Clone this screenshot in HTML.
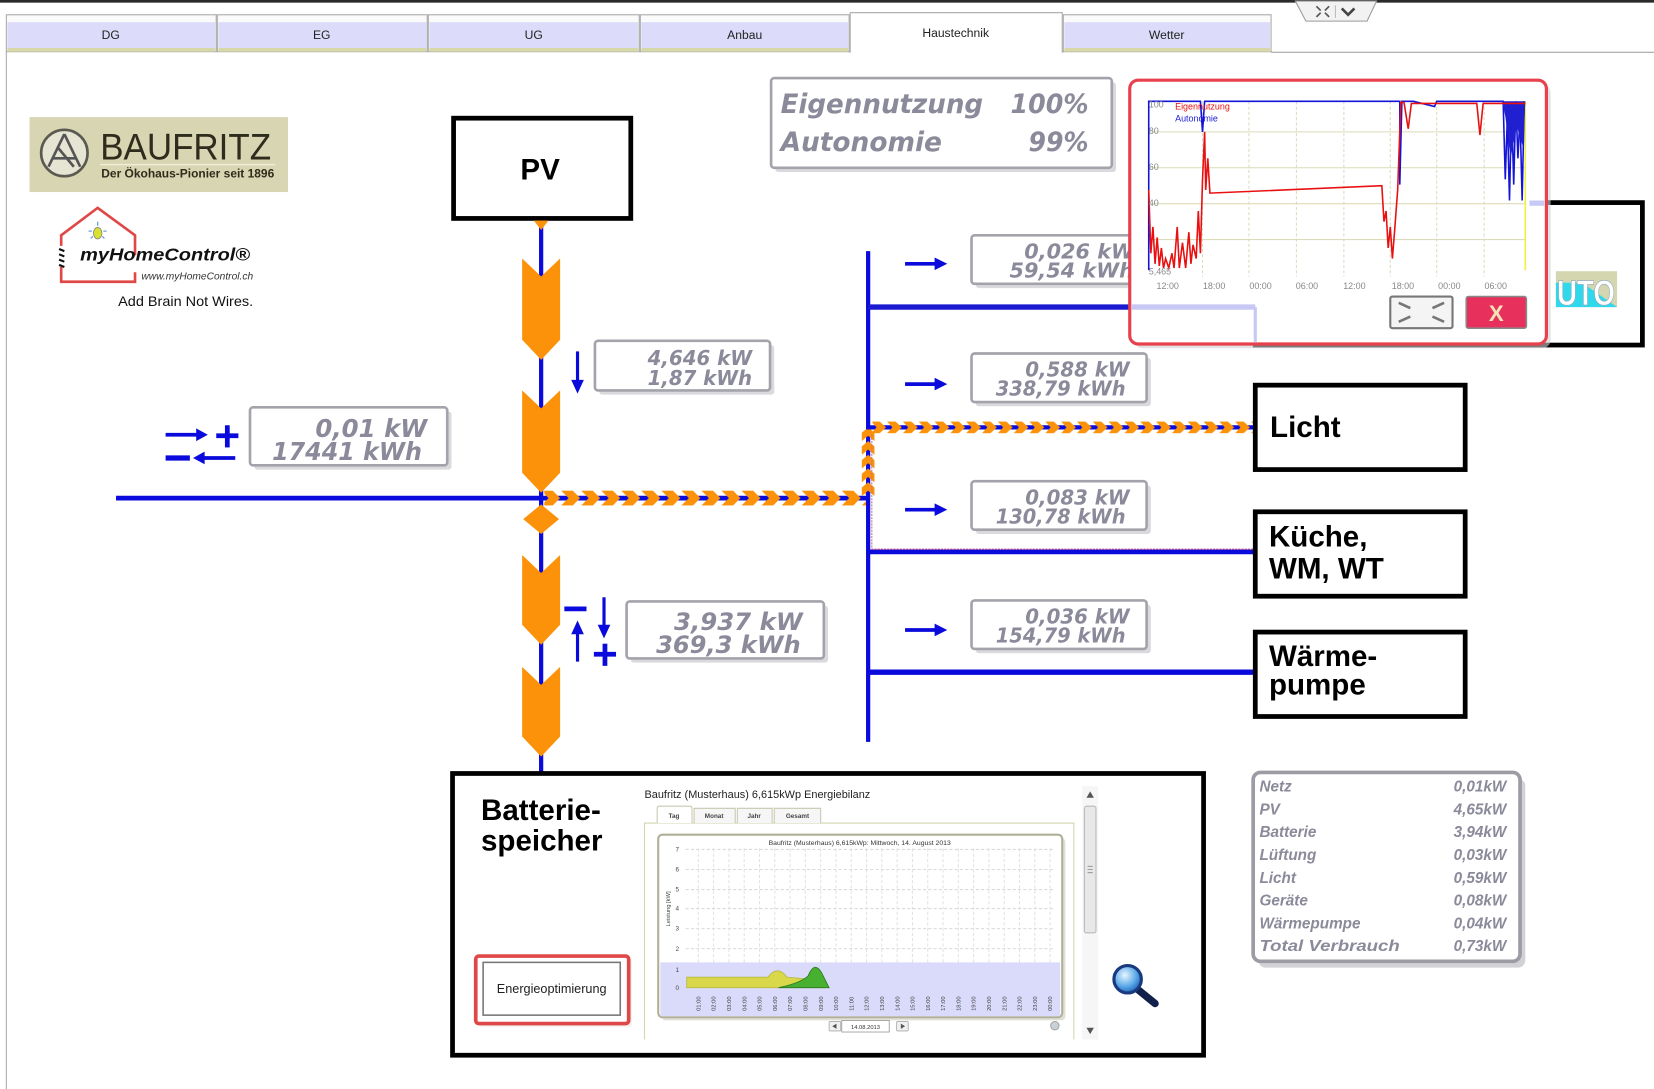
<!DOCTYPE html>
<html><head><meta charset="utf-8">
<style>
html,body{margin:0;padding:0;background:#fff;overflow:hidden}
svg{display:block}
text{font-family:"Liberation Sans",sans-serif}
.g{font-family:"DejaVu Sans","Liberation Sans",sans-serif;font-weight:bold;font-style:italic;fill:#8a8a9a}
.bx{fill:#fff;stroke:#a3a3ab;stroke-width:2.5}
.sh{fill:#dadade}
.blk{fill:#fff;stroke:#000;stroke-width:4.5}
.bt{font-weight:bold;font-size:28px;fill:#000}
.tl{font-size:11.5px;fill:#222;text-anchor:middle}
.ax{font-size:8.5px;fill:#888}
.sx{font-size:5.5px;fill:#444}
</style></head><body>
<svg width="1654" height="1089" viewBox="0 0 1568 1032" preserveAspectRatio="none" xmlns="http://www.w3.org/2000/svg">
<defs>
<pattern id="ph" x="513" y="465" width="19" height="14" patternUnits="userSpaceOnUse">
<path d="M0,0 L11,0 L18,7 L11,14 L0,14 L7,7 Z" fill="#fb9209"/>
</pattern>
<pattern id="pv" x="817" y="405" width="12" height="13" patternUnits="userSpaceOnUse">
<path d="M0,13 L0,5 L6,0 L12,5 L12,13 L6,8 Z" fill="#fb9209"/>
</pattern>
<pattern id="pl" x="826" y="399.5" width="15" height="11" patternUnits="userSpaceOnUse">
<path d="M0,0 L8,0 L14,5.5 L8,11 L0,11 L5,5.5 Z" fill="#fb9209"/>
</pattern>
<radialGradient id="lens" cx="0.4" cy="0.35" r="0.7">
<stop offset="0" stop-color="#e8f6ff"/><stop offset="0.6" stop-color="#5aa8e8"/><stop offset="1" stop-color="#1a5ab0"/>
</radialGradient>
</defs>

<!-- top frame -->
<rect x="0" y="0" width="1568" height="2.5" fill="#2a2a2a"/>
<path d="M1228,1 L1305,1 L1296,20 L1238,20 Z" fill="#f2f2f2" stroke="#9a9a9a"/>
<g stroke="#555" stroke-width="1.6" fill="none">
<path d="M1248,6 l4,4 M1260,6 l-4,4 M1248,16 l4,-4 M1260,16 l-4,-4"/>
</g>
<line x1="1266" y1="5" x2="1266" y2="17" stroke="#bbb"/>
<polyline points="1272,8 1278,14 1284,8" fill="none" stroke="#444" stroke-width="2.5"/>

<!-- tabs -->
<g>
<rect x="6" y="14" width="199" height="35" fill="#fafafa" stroke="#a8a8a8"/><rect x="7" y="21" width="197" height="25" fill="#dcdcfa"/><rect x="7" y="45.5" width="197" height="3.5" fill="#d6d8a8"/>
<rect x="206" y="14" width="199" height="35" fill="#fafafa" stroke="#a8a8a8"/><rect x="207" y="21" width="197" height="25" fill="#dcdcfa"/><rect x="207" y="45.5" width="197" height="3.5" fill="#d6d8a8"/>
<rect x="406" y="14" width="200" height="35" fill="#fafafa" stroke="#a8a8a8"/><rect x="407" y="21" width="198" height="25" fill="#dcdcfa"/><rect x="407" y="45.5" width="198" height="3.5" fill="#d6d8a8"/>
<rect x="607" y="14" width="198" height="35" fill="#fafafa" stroke="#a8a8a8"/><rect x="608" y="21" width="196" height="25" fill="#dcdcfa"/><rect x="608" y="45.5" width="196" height="3.5" fill="#d6d8a8"/>
<rect x="1008" y="14" width="197" height="35" fill="#fafafa" stroke="#a8a8a8"/><rect x="1009" y="21" width="195" height="25" fill="#dcdcfa"/><rect x="1009" y="45.5" width="195" height="3.5" fill="#d6d8a8"/>
<path d="M806,50 L806,12 L1007,12 L1007,50" fill="#fff" stroke="#a8a8a8"/>
<text class="tl" x="105" y="37">DG</text>
<text class="tl" x="305" y="37">EG</text>
<text class="tl" x="506" y="37">UG</text>
<text class="tl" x="706" y="37">Anbau</text>
<text class="tl" x="906" y="35">Haustechnik</text>
<text class="tl" x="1106" y="37">Wetter</text>
</g>
<line x1="1205" y1="49.5" x2="1568" y2="49.5" stroke="#9a9a9a"/>
<line x1="6" y1="49" x2="6" y2="1032" stroke="#a8a8a8"/>

<!-- BAUFRITZ logo -->
<rect x="28" y="111" width="245" height="71" fill="#d8d5b2"/>
<circle cx="61" cy="145" r="22" fill="#e6e4d2" stroke="#5a5a50" stroke-width="2.5"/>
<path d="M61,127 L46,158 M61,127 L76,158 M50,150 L72,150 M55,140 L70,158" stroke="#555" stroke-width="2.5" fill="none"/>
<text x="95" y="151" font-size="35" fill="#2e2c1c" textLength="162" lengthAdjust="spacingAndGlyphs">BAUFRITZ</text>
<line x1="95" y1="156" x2="261" y2="156" stroke="#f2f0dc" stroke-width="1.2"/>
<text x="96" y="168" font-size="11.5" font-weight="bold" fill="#2e2c1c" textLength="164" lengthAdjust="spacingAndGlyphs">Der Ökohaus-Pionier seit 1896</text>

<!-- myHomeControl logo -->
<polyline points="58,233 58,223 92.6,197 128,223 128,242" fill="none" stroke="#e04848" stroke-width="2.5"/>
<polyline points="58,253 58,267 128,267 128,258" fill="none" stroke="#e04848" stroke-width="2.5"/>
<path d="M56,236 l5,2 M56,241 l5,2 M56,246 l5,2 M56,251 l5,2" stroke="#111" stroke-width="2"/>
<ellipse cx="92.6" cy="221" rx="4" ry="5.5" fill="#d8e030" stroke="#888" stroke-width="0.8"/>
<path d="M92.6,210 v4 M84,219 h3 M98,219 h3 M86,226 l2,-2 M99,226 l-2,-2" stroke="#6aa0d0" stroke-width="1.2"/>
<text x="76" y="247" font-size="17" font-weight="bold" font-style="italic" fill="#111" textLength="161" lengthAdjust="spacingAndGlyphs">myHomeControl®</text>
<text x="134" y="265" font-size="9.5" font-style="italic" fill="#333" textLength="106" lengthAdjust="spacingAndGlyphs">www.myHomeControl.ch</text>
<text x="112" y="290" font-size="13.5" fill="#111" textLength="128" lengthAdjust="spacingAndGlyphs">Add Brain Not Wires.</text>

<!-- PV box -->
<rect class="blk" x="430" y="112" width="168" height="95"/>
<text class="bt" x="512" y="170" text-anchor="middle">PV</text>

<!-- main vertical -->
<line x1="513" y1="209" x2="513" y2="732" stroke="#0a0adc" stroke-width="4"/>
<path d="M506,209 L520,209 L513,218 Z" fill="#fb9209"/>
<g fill="#fb9209">
<path d="M495,245 L513,262 L531,245 L531,322 L513,341 L495,322 Z"/>
<path d="M495,370 L513,387 L531,370 L531,448 L513,467 L495,448 Z"/>
<path d="M495,526 L513,543 L531,526 L531,592 L513,611 L495,592 Z"/>
<path d="M495,632 L513,649 L531,632 L531,698 L513,717 L495,698 Z"/>
<path d="M513,478 L530,492 L513,506 L496,492 Z"/>
</g>

<!-- main horizontal -->
<line x1="110" y1="472" x2="823" y2="472" stroke="#0a0adc" stroke-width="4.5"/>
<rect x="516" y="465" width="305" height="14" fill="url(#ph)"/>

<!-- right bus -->
<line x1="823" y1="238" x2="823" y2="703" stroke="#0a0adc" stroke-width="4"/>
<line x1="823" y1="291" x2="1072" y2="291" stroke="#1a1ad0" stroke-width="5"/>
<line x1="823" y1="405" x2="1190" y2="405" stroke="#0a0adc" stroke-width="4"/>
<rect x="817" y="407" width="12" height="63" fill="url(#pv)"/>
<rect x="827" y="399.5" width="361" height="11" fill="url(#pl)"/>
<line x1="823" y1="523" x2="1190" y2="523" stroke="#0a0adc" stroke-width="4.5"/>
<line x1="826" y1="520.5" x2="1190" y2="520.5" stroke="#b04890" stroke-width="1.2" stroke-dasharray="2,1"/>
<line x1="826.5" y1="412" x2="826.5" y2="520" stroke="#c07090" stroke-width="1" stroke-dasharray="2,1"/>
<line x1="823" y1="637" x2="1190" y2="637" stroke="#0a0adc" stroke-width="5"/>

<!-- arrows -->
<g stroke="#0a0adc" stroke-width="3.5" fill="#0a0adc">
<line x1="858" y1="250" x2="888" y2="250"/><path d="M886,244 L898,250 L886,256 Z" stroke="none"/>
<line x1="858" y1="364" x2="888" y2="364"/><path d="M886,358 L898,364 L886,370 Z" stroke="none"/>
<line x1="858" y1="483" x2="888" y2="483"/><path d="M886,477 L898,483 L886,489 Z" stroke="none"/>
<line x1="858" y1="597" x2="888" y2="597"/><path d="M886,591 L898,597 L886,603 Z" stroke="none"/>
<!-- Netz -->
<line x1="157" y1="412" x2="188" y2="412"/><path d="M186,406 L197,412 L186,418 Z" stroke="none"/>
<line x1="205" y1="413" x2="226" y2="413" stroke-width="4.5"/><line x1="215.5" y1="403" x2="215.5" y2="424" stroke-width="4.5"/>
<line x1="157" y1="434" x2="180" y2="434" stroke-width="5"/>
<line x1="223" y1="434" x2="192" y2="434"/><path d="M194,428 L183,434 L194,440 Z" stroke="none"/>
<!-- PV -->
<line x1="547.5" y1="333" x2="547.5" y2="362" stroke-width="3"/><path d="M541.5,360 L547.5,373 L553.5,360 Z" stroke="none"/>
<!-- Battery -->
<line x1="535" y1="577" x2="556" y2="577" stroke-width="4.5"/>
<line x1="572.6" y1="566" x2="572.6" y2="594" stroke-width="3"/><path d="M566.6,592 L572.6,605 L578.6,592 Z" stroke="none"/>
<line x1="547.5" y1="627" x2="547.5" y2="599" stroke-width="3"/><path d="M541.5,601 L547.5,588 L553.5,601 Z" stroke="none"/>
<line x1="563" y1="620" x2="584" y2="620" stroke-width="4.5"/><line x1="573.5" y1="610" x2="573.5" y2="631" stroke-width="4.5"/>
</g>

<!-- gauges -->
<rect class="sh" x="241" y="390" width="187" height="55" rx="3"/>
<rect class="bx" x="237" y="386" width="187" height="55" rx="3"/>
<text class="g" x="405" y="414" font-size="23.5" text-anchor="end" textLength="106" lengthAdjust="spacingAndGlyphs">0,01 kW</text>
<text class="g" x="400" y="436" font-size="23.5" text-anchor="end" textLength="142" lengthAdjust="spacingAndGlyphs">17441 kWh</text>

<rect class="sh" x="568" y="327" width="166" height="47" rx="3"/>
<rect class="bx" x="564" y="323" width="166" height="47" rx="3"/>
<text class="g" x="713" y="346" font-size="19" text-anchor="end" textLength="99" lengthAdjust="spacingAndGlyphs">4,646 kW</text>
<text class="g" x="713" y="365" font-size="19" text-anchor="end" textLength="99" lengthAdjust="spacingAndGlyphs">1,87 kWh</text>

<rect class="sh" x="598" y="574" width="187" height="54" rx="3"/>
<rect class="bx" x="594" y="570" width="187" height="54" rx="3"/>
<text class="g" x="761" y="597" font-size="23" text-anchor="end" textLength="122" lengthAdjust="spacingAndGlyphs">3,937 kW</text>
<text class="g" x="759" y="619" font-size="23" text-anchor="end" textLength="137" lengthAdjust="spacingAndGlyphs">369,3 kWh</text>

<rect class="sh" x="925" y="227" width="166" height="46" rx="3"/>
<rect class="bx" x="921" y="223" width="166" height="46" rx="3"/>
<text class="g" x="1075" y="245" font-size="19" text-anchor="end" textLength="104" lengthAdjust="spacingAndGlyphs">0,026 kW</text>
<text class="g" x="1075" y="263" font-size="19" text-anchor="end" textLength="118" lengthAdjust="spacingAndGlyphs">59,54 kWh</text>

<rect class="sh" x="925" y="339" width="166" height="46" rx="3"/>
<rect class="bx" x="921" y="335" width="166" height="46" rx="3"/>
<text class="g" x="1071" y="357" font-size="19" text-anchor="end" textLength="99" lengthAdjust="spacingAndGlyphs">0,588 kW</text>
<text class="g" x="1067" y="375" font-size="19" text-anchor="end" textLength="123" lengthAdjust="spacingAndGlyphs">338,79 kWh</text>

<rect class="sh" x="925" y="460" width="166" height="46" rx="3"/>
<rect class="bx" x="921" y="456" width="166" height="46" rx="3"/>
<text class="g" x="1071" y="478" font-size="19" text-anchor="end" textLength="99" lengthAdjust="spacingAndGlyphs">0,083 kW</text>
<text class="g" x="1067" y="496" font-size="19" text-anchor="end" textLength="123" lengthAdjust="spacingAndGlyphs">130,78 kWh</text>

<rect class="sh" x="925" y="573" width="166" height="46" rx="3"/>
<rect class="bx" x="921" y="569" width="166" height="46" rx="3"/>
<text class="g" x="1071" y="591" font-size="19" text-anchor="end" textLength="99" lengthAdjust="spacingAndGlyphs">0,036 kW</text>
<text class="g" x="1067" y="609" font-size="19" text-anchor="end" textLength="123" lengthAdjust="spacingAndGlyphs">154,79 kWh</text>

<!-- Eigennutzung box -->
<rect class="sh" x="735" y="78" width="323" height="85" rx="3"/>
<rect class="bx" x="731" y="74" width="323" height="85" rx="3" stroke-width="3"/>
<text class="g" x="740" y="107" font-size="25" textLength="192" lengthAdjust="spacingAndGlyphs">Eigennutzung</text>
<text class="g" x="1032" y="107" font-size="25" text-anchor="end" textLength="74" lengthAdjust="spacingAndGlyphs">100%</text>
<text class="g" x="740" y="143" font-size="25" textLength="153" lengthAdjust="spacingAndGlyphs">Autonomie</text>
<text class="g" x="1032" y="143" font-size="25" text-anchor="end" textLength="57" lengthAdjust="spacingAndGlyphs">99%</text>

<!-- consumer boxes -->
<rect class="blk" x="1190" y="365" width="199" height="80"/>
<text class="bt" x="1204" y="414">Licht</text>
<rect class="blk" x="1190" y="485" width="199" height="80"/>
<text class="bt" x="1203" y="518">Küche,</text>
<text class="bt" x="1203" y="548">WM, WT</text>
<rect class="blk" x="1190" y="599" width="199" height="80"/>
<text class="bt" x="1203" y="631">Wärme-</text>
<text class="bt" x="1203" y="658">pumpe</text>

<!-- Lüftung box (behind popup) -->
<rect class="blk" x="1190" y="192" width="367" height="135"/>
<rect x="1475" y="257" width="58" height="34" fill="#d4d6b0"/>
<path d="M1475,268 L1500,268 L1533,291 L1475,291 Z" fill="#30d8ec"/>
<text x="1476" y="289" font-size="33" font-weight="bold" fill="#fff" stroke="#9ab" stroke-width="0.6" textLength="55" lengthAdjust="spacingAndGlyphs">UTO</text>

<!-- popup -->
<rect x="1075" y="80" width="395" height="250" rx="8" fill="#cfcfcf" opacity="0.6"/>
<rect x="1071" y="76" width="395" height="250" rx="8" fill="#fff" stroke="#e8404c" stroke-width="3"/>
<line x1="1073" y1="291" x2="1190" y2="291" stroke="#c8c8f4" stroke-width="5"/>
<line x1="1190" y1="291" x2="1190" y2="324" stroke="#c8c8f4" stroke-width="3"/>
<rect x="1450" y="190" width="14" height="5" fill="#c8c8f4"/>
<g stroke="#dcdcb8" stroke-width="1">
<line x1="1089" y1="125" x2="1446" y2="125"/><line x1="1089" y1="159" x2="1446" y2="159"/>
<line x1="1089" y1="193" x2="1446" y2="193"/><line x1="1089" y1="227" x2="1446" y2="227"/>
</g>
<g stroke="#dcdcc4" stroke-width="1" stroke-dasharray="3,2">
<line x1="1140" y1="96" x2="1140" y2="262"/><line x1="1184" y1="96" x2="1184" y2="262"/>
<line x1="1229" y1="96" x2="1229" y2="262"/><line x1="1274" y1="96" x2="1274" y2="262"/>
<line x1="1318" y1="96" x2="1318" y2="262"/><line x1="1362" y1="96" x2="1362" y2="262"/>
<line x1="1407" y1="96" x2="1407" y2="262"/>
</g>
<line x1="1446" y1="96" x2="1446" y2="256" stroke="#f0f040" stroke-width="1.5"/>
<polyline fill="none" stroke="#1414d8" stroke-width="1.5" points="1089,256 1089,96 1138,96 1140,125 1142,96 1327,96 1327,175 1329,96 1340,96 1360,101 1362,96 1425,96 1427,170 1429,110 1431,190 1433,100 1435,175 1437,96 1439,150 1441,110 1443,190 1445,96"/>
<path d="M1424,96 L1446,96 L1444,140 L1438,120 L1432,150 L1427,110 Z" fill="#2020d0"/>
<polyline fill="none" stroke="#e81010" stroke-width="1.5" points="1089,180 1091,240 1093,215 1095,250 1097,225 1099,252 1101,235 1103,254 1105,245 1108,254 1111,240 1113,254 1116,215 1118,254 1121,230 1124,254 1127,220 1129,250 1131,232 1134,245 1136,200 1138,240 1140,170 1142,125 1143,180 1145,150 1147,183 1310,176 1312,210 1314,200 1316,235 1318,215 1320,245 1322,220 1325,180 1328,97 1331,97 1335,122 1338,98 1400,98 1403,128 1406,98 1446,98"/>
<text class="ax" x="1089" y="102">100</text>
<text class="ax" x="1089" y="127">80</text>
<text class="ax" x="1089" y="161">60</text>
<text class="ax" x="1089" y="195">40</text>
<text class="ax" x="1089" y="260">5,465</text>
<text x="1114" y="104" font-size="8.5" fill="#e81010">Eigennutzung</text>
<text x="1114" y="115" font-size="8.5" fill="#2020d8">Autonomie</text>
<g class="ax" text-anchor="middle">
<text x="1107" y="274">12:00</text><text x="1151" y="274">18:00</text><text x="1195" y="274">00:00</text><text x="1239" y="274">06:00</text>
<text x="1284" y="274">12:00</text><text x="1330" y="274">18:00</text><text x="1374" y="274">00:00</text><text x="1418" y="274">06:00</text>
</g>
<rect x="1318" y="281" width="59" height="30" rx="2" fill="#f4f4f4" stroke="#777" stroke-width="2"/>
<g stroke="#777" stroke-width="2.5" fill="none">
<path d="M1326,287 l11,5 M1369,287 l-11,5 M1326,305 l11,-5 M1369,305 l-11,-5"/>
</g>
<rect x="1390" y="281" width="57" height="30" rx="2" fill="#e8305c" stroke="#888" stroke-width="1.5"/>
<text x="1418.5" y="304" font-size="21" font-weight="bold" fill="#f4e4b8" text-anchor="middle">X</text>

<!-- Batterie box -->
<rect class="blk" x="429" y="733" width="712" height="267"/>
<text class="bt" x="456" y="777" font-size="29">Batterie-</text>
<text class="bt" x="456" y="806" font-size="29">speicher</text>
<rect x="454" y="909" width="145" height="64" rx="3" fill="#e8e8e8" opacity="0.7"/>
<rect x="451" y="906" width="145" height="64" rx="3" fill="#fff" stroke="#e04848" stroke-width="3.5"/>
<rect x="458" y="912" width="130" height="50" fill="#fff" stroke="#777" stroke-width="1.5"/>
<text x="523" y="941" font-size="12" fill="#222" text-anchor="middle">Energieoptimierung</text>

<!-- embedded chart -->
<text x="611" y="756" font-size="10.5" fill="#222" textLength="214" lengthAdjust="spacingAndGlyphs">Baufritz (Musterhaus) 6,615kWp Energiebilanz</text>
<path d="M611,985 L611,780 L1018,780 L1018,985" fill="none" stroke="#d4d4b0"/>
<path d="M623,780 L623,766 Q623,764 625,764 L654,764 Q656,764 656,766 L656,780" fill="#fff" stroke="#c8c8b0"/>
<path d="M658,780 L658,766 L697,766 L697,780" fill="#f6f6f6" stroke="#c8c8b0"/>
<path d="M699,780 L699,766 L732,766 L732,780" fill="#f6f6f6" stroke="#c8c8b0"/>
<path d="M734,780 L734,766 L778,766 L778,780" fill="#f6f6f6" stroke="#c8c8b0"/>
<g font-size="6" fill="#444" font-weight="bold" text-anchor="middle">
<text x="639" y="775">Tag</text><text x="677" y="775">Monat</text><text x="715" y="775">Jahr</text><text x="756" y="775">Gesamt</text>
</g>
<rect x="627" y="794" width="383" height="173" rx="4" fill="#e0e0d8"/>
<rect x="624" y="791" width="383" height="173" rx="4" fill="#fff" stroke="#b0b098" stroke-width="2"/>
<rect x="626" y="912" width="379" height="51" fill="#dadafa"/>
<text x="815" y="801" font-size="6.5" fill="#333" text-anchor="middle">Baufritz (Musterhaus) 6,615kWp: Mittwoch, 14. August 2013</text>
<g stroke="#dadada" stroke-width="1" stroke-dasharray="3,2">
<line x1="650" y1="805" x2="998" y2="805"/><line x1="650" y1="824" x2="998" y2="824"/>
<line x1="650" y1="843" x2="998" y2="843"/><line x1="650" y1="861" x2="998" y2="861"/>
<line x1="650" y1="880" x2="998" y2="880"/><line x1="650" y1="899" x2="998" y2="899"/>
</g>
<g stroke="#e2e2e2" stroke-width="1" stroke-dasharray="3,2">
<line x1="662" y1="804" x2="662" y2="912"/><line x1="676.5" y1="804" x2="676.5" y2="912"/><line x1="691" y1="804" x2="691" y2="912"/><line x1="705.5" y1="804" x2="705.5" y2="912"/>
<line x1="720" y1="804" x2="720" y2="912"/><line x1="734.5" y1="804" x2="734.5" y2="912"/><line x1="749" y1="804" x2="749" y2="912"/><line x1="763.5" y1="804" x2="763.5" y2="912"/>
<line x1="778" y1="804" x2="778" y2="912"/><line x1="792.5" y1="804" x2="792.5" y2="912"/><line x1="807" y1="804" x2="807" y2="912"/><line x1="821.5" y1="804" x2="821.5" y2="912"/>
<line x1="836" y1="804" x2="836" y2="912"/><line x1="850.5" y1="804" x2="850.5" y2="912"/><line x1="865" y1="804" x2="865" y2="912"/><line x1="879.5" y1="804" x2="879.5" y2="912"/>
<line x1="894" y1="804" x2="894" y2="912"/><line x1="908.5" y1="804" x2="908.5" y2="912"/><line x1="923" y1="804" x2="923" y2="912"/><line x1="937.5" y1="804" x2="937.5" y2="912"/>
<line x1="952" y1="804" x2="952" y2="912"/><line x1="966.5" y1="804" x2="966.5" y2="912"/><line x1="981" y1="804" x2="981" y2="912"/><line x1="995.5" y1="804" x2="995.5" y2="912"/>
</g>
<g font-size="6" fill="#444" text-anchor="middle">
<text x="642" y="807">7</text><text x="642" y="826">6</text><text x="642" y="845">5</text><text x="642" y="863">4</text>
<text x="642" y="882">3</text><text x="642" y="901">2</text><text x="642" y="921">1</text><text x="642" y="938">0</text>
</g>
<text x="0" y="0" font-size="5.5" fill="#444" transform="translate(635,878) rotate(-90)">Leistung [kW]</text>
<path d="M651,936 L651,926 L728,926 Q737,914 746,926 L768,928 L783,936 Z" fill="#d8d84a" stroke="#b8b840" stroke-width="0.8"/>
<path d="M738,936 Q758,932 766,925 Q772,910 779,922 L786,936 Z" fill="#48b030" stroke="#2a7a20" stroke-width="0.8"/>
<g class="sx">
<text transform="translate(664,958) rotate(-90)">01:00</text><text transform="translate(678.5,958) rotate(-90)">02:00</text><text transform="translate(693,958) rotate(-90)">03:00</text><text transform="translate(707.5,958) rotate(-90)">04:00</text>
<text transform="translate(722,958) rotate(-90)">05:00</text><text transform="translate(736.5,958) rotate(-90)">06:00</text><text transform="translate(751,958) rotate(-90)">07:00</text><text transform="translate(765.5,958) rotate(-90)">08:00</text>
<text transform="translate(780,958) rotate(-90)">09:00</text><text transform="translate(794.5,958) rotate(-90)">10:00</text><text transform="translate(809,958) rotate(-90)">11:00</text><text transform="translate(823.5,958) rotate(-90)">12:00</text>
<text transform="translate(838,958) rotate(-90)">13:00</text><text transform="translate(852.5,958) rotate(-90)">14:00</text><text transform="translate(867,958) rotate(-90)">15:00</text><text transform="translate(881.5,958) rotate(-90)">16:00</text>
<text transform="translate(896,958) rotate(-90)">17:00</text><text transform="translate(910.5,958) rotate(-90)">18:00</text><text transform="translate(925,958) rotate(-90)">19:00</text><text transform="translate(939.5,958) rotate(-90)">20:00</text>
<text transform="translate(954,958) rotate(-90)">21:00</text><text transform="translate(968.5,958) rotate(-90)">22:00</text><text transform="translate(983,958) rotate(-90)">23:00</text><text transform="translate(997.5,958) rotate(-90)">00:00</text>
</g>
<rect x="786" y="968" width="11" height="9" rx="1" fill="#f0f0f0" stroke="#aaa" stroke-width="0.8"/>
<path d="M793,970 L789,972.5 L793,975 Z" fill="#555"/>
<rect x="798" y="967" width="45" height="11" fill="#fff" stroke="#999" stroke-width="0.8"/>
<text x="820.5" y="975" font-size="5.5" fill="#333" text-anchor="middle">14.08.2013</text>
<rect x="850" y="968" width="11" height="9" rx="1" fill="#f0f0f0" stroke="#aaa" stroke-width="0.8"/>
<path d="M854,970 L858,972.5 L854,975 Z" fill="#555"/>
<circle cx="1000" cy="972" r="4" fill="#c8d0d8" stroke="#999" stroke-width="0.8"/>
<!-- scrollbar -->
<rect x="1026" y="745" width="15" height="240" fill="#f6f6f6"/>
<path d="M1030,756 L1033.5,750 L1037,756 Z" fill="#555"/>
<rect x="1028" y="764" width="11" height="120" rx="2" fill="#e8e8e8" stroke="#b8b8b8"/>
<path d="M1031,821 h5 M1031,824 h5 M1031,827 h5" stroke="#888" stroke-width="0.8"/>
<path d="M1030,974 L1037,974 L1033.5,980 Z" fill="#555"/>
<!-- magnifier -->
<line x1="1079" y1="938" x2="1095" y2="951" stroke="#10204a" stroke-width="7" stroke-linecap="round"/>
<circle cx="1069" cy="928" r="13" fill="url(#lens)" stroke="#1a3a80" stroke-width="3"/>

<!-- summary box -->
<rect x="1193" y="738" width="253" height="179" rx="7" fill="#d2d2d6"/>
<rect x="1188" y="732" width="253" height="179" rx="7" fill="#fff" stroke="#9c9ca4" stroke-width="3.5"/>
<g class="g" font-size="14.5">
<text x="1194" y="750">Netz</text>
<text x="1194" y="772">PV</text>
<text x="1194" y="793">Batterie</text>
<text x="1194" y="815">Lüftung</text>
<text x="1194" y="837">Licht</text>
<text x="1194" y="858">Geräte</text>
<text x="1194" y="880">Wärmepumpe</text>
<text x="1194" y="901" textLength="133" lengthAdjust="spacingAndGlyphs">Total Verbrauch</text>
</g>
<g class="g" font-size="14.5" text-anchor="end">
<text x="1428" y="750">0,01kW</text>
<text x="1428" y="772">4,65kW</text>
<text x="1428" y="793">3,94kW</text>
<text x="1428" y="815">0,03kW</text>
<text x="1428" y="837">0,59kW</text>
<text x="1428" y="858">0,08kW</text>
<text x="1428" y="880">0,04kW</text>
<text x="1428" y="901">0,73kW</text>
</g>
</svg>
</body></html>
